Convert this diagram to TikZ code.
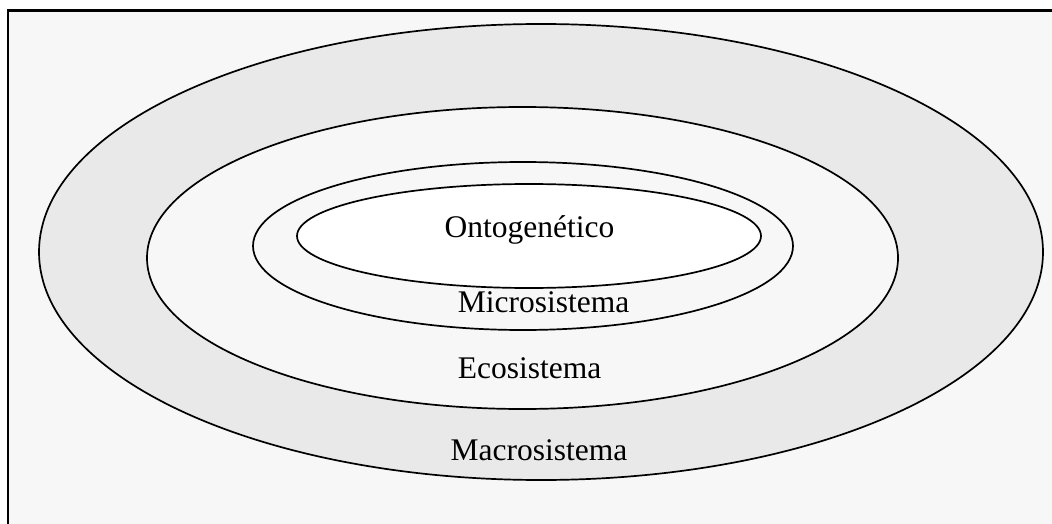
\documentclass[tikz,border=0pt]{standalone}
\usepackage{fontspec}
\setmainfont{Liberation Serif}
\definecolor{pagebg}{HTML}{F7F7F7}
\definecolor{ringgray}{HTML}{E9E9E9}
\begin{document}
\begin{tikzpicture}[x=1pt,y=-1pt,
  ring/.style={draw=black,line width=1.7pt},
  lbl/.style={anchor=base,inner sep=0pt,font=\fontsize{31.5}{36}\selectfont}]
\useasboundingbox (0,0) rectangle (1052,524);
% framed panel, running past the right and bottom edges
\fill[white] (0,0) rectangle (1052,524);
\filldraw[fill=pagebg,draw=black,line width=2.2pt] (8,10.5) rectangle (1070,540);
% nested levels, outermost first
\filldraw[ring,fill=ringgray] (541,252) ellipse [x radius=502,y radius=228];
\filldraw[ring,fill=pagebg] (522.5,258) ellipse [x radius=375.5,y radius=151];
\filldraw[ring,fill=pagebg] (523,246) ellipse [x radius=270,y radius=84];
\filldraw[ring,fill=white] (529,236) ellipse [x radius=232,y radius=52];
% level names
\node[lbl] (onto)  at (529.5,237) {Ontogenético};
\node[lbl] (micro) at (543.5,312) {Microsistema};
\node[lbl] (eco)   at (529.5,378) {Ecosistema};
\node[lbl] (macro) at (539,460) {Macrosistema};
\end{tikzpicture}
\end{document}
